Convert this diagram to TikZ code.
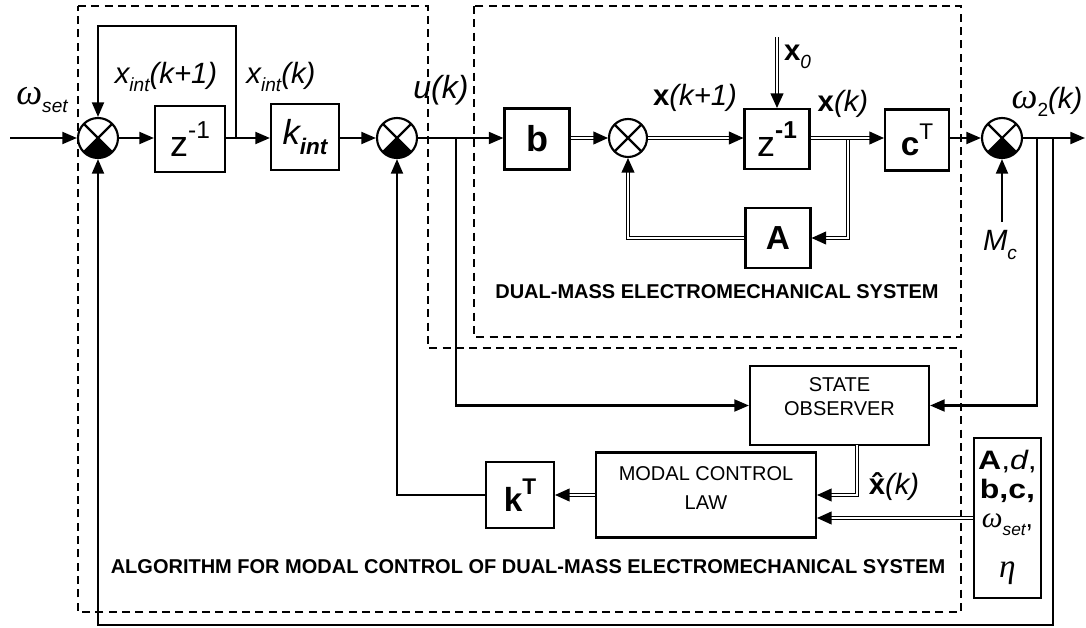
\documentclass[tikz,border=0pt]{standalone}
\usepackage{graphicx}
\usepackage{fontspec}
\setmainfont{Liberation Sans}
\newfontfamily\grk{Liberation Serif}
\usetikzlibrary{arrows.meta,decorations.markings}
\newcommand\sub[1]{\raisebox{-0.28em}{\scalebox{0.65}{#1}}}
\newcommand\sups[1]{\raisebox{0.5em}{\scalebox{0.68}{#1}}}
\newcommand\fs[1]{\fontsize{#1pt}{#1pt}\selectfont}
\newcommand\om{{\grk\itshape\scalebox{1.25}{ω}}}
\begin{document}
\begin{tikzpicture}[x=0.75pt,y=-0.75pt,line width=1.6pt,
  arr/.style={-{Triangle[length=11pt,width=9pt]}},
  dbl/.style={double,double distance=1.5pt,line width=0.9pt},
  dbla/.style={dbl,shorten >=8pt,postaction={decorate,decoration={markings,
      mark=at position 1 with {\fill (-11pt,5pt) -- (0pt,0pt) -- (-11pt,-5pt) -- cycle;}}}},
  dsh/.style={line width=0.9pt,dash pattern=on 6pt off 4pt},
  bx/.style 2 args={draw,line width=1.6pt,minimum width=#1*0.75pt,minimum height=#2*0.75pt,inner sep=0pt,align=center},
  lbl/.style={inner sep=0pt,font=\fs{22}},
  sumj/.style={circle,draw,line width=1.6pt,minimum size=30pt,inner sep=0pt,
    path picture={
      \draw[line width=1.6pt] (path picture bounding box.center) ++(45:16pt) -- ++(225:32pt);
      \draw[line width=1.6pt] (path picture bounding box.center) ++(135:16pt) -- ++(-45:32pt);}},
  sumf/.style={sumj,
    path picture={
      \fill (path picture bounding box.center) -- ++(225:20pt) arc[start angle=225,end angle=315,radius=20pt] -- cycle;
      \draw[line width=1.6pt] (path picture bounding box.center) ++(45:16pt) -- ++(225:32pt);
      \draw[line width=1.6pt] (path picture bounding box.center) ++(135:16pt) -- ++(-45:32pt);}},
  ttl/.style={inner sep=0pt,font=\fs{15}\bfseries}
]
\useasboundingbox (0,0) rectangle (1086,628);

% dashed frames
\draw[dsh] (78,6) -- (428,6) -- (428,348) -- (961,348) -- (961,612) -- (78,612) -- cycle;
\draw[dsh] (474,6) rectangle (961,337);

% blocks
\node[sumf] (s1) at (98,138) {};
\node[bx={70}{66},font=\fs{27}] (z1) at (190,139) {z\sups{-1}};
\node[bx={68}{66},font=\fs{26}] (kint) at (305,137) {\itshape k\sub{\bfseries int}};
\node[sumf] (s2) at (397,138) {};
\node[bx={65}{61},font=\fs{27}\bfseries] (b) at (537,139) {b};
\node[sumj,minimum size=28.5pt] (s3) at (628,138) {};
\node[bx={65}{60},font=\fs{27}] (z2) at (777,139) {z\sups{\bfseries -1}};
\node[bx={65}{60},font=\fs{25}\bfseries] (A) at (778,238) {A};
\node[bx={64}{61},font=\fs{25}] (cT) at (917,140) {\textbf{c}\sups{T}};
\node[sumf] (s4) at (1002,138) {};
\node[bx={179}{79},label={[font=\fs{15},align=center,yshift=7pt]center:STATE\\[3pt]OBSERVER}] (obs) at (839.5,405.5) {};
\node[bx={220}{85},label={[font=\fs{15},align=center,yshift=5pt]center:MODAL CONTROL\\[7pt]LAW}] (mcl) at (706,495) {};
\node[bx={68}{66},font=\fs{25}] (kT) at (520,495) {\textbf{k}\sups{\bfseries T}};
\node[bx={67}{160}] (par) at (1007.5,518) {\fs{20}\begin{tabular}{@{}c@{}}\scalebox{1.2}[1]{\textbf{A},{\itshape d},}\\[1.75pt]\scalebox{1.2}[1]{\textbf{b,c,}}\\[1.75pt]{\grk\itshape\scalebox{1.1}{ω}}\sub{\itshape set},\\[17.5pt]{\grk\itshape\scalebox{1.25}{η}}\end{tabular}};

% coordinates
\coordinate (in) at (10,138);
\coordinate (br1) at (236,138);
\coordinate (lp) at (98,26);
\coordinate (ut) at (456,138);
\coordinate (xb) at (848,138);
\coordinate (x0s) at (777,37);
\coordinate (Mcs) at (1002,222);
\coordinate (out) at (1085,138);
\coordinate (wt) at (1037,138);
\coordinate (wt2) at (1053,138);
\coordinate (fb) at (1053,625);
\coordinate (obo) at (857,445);

% connectors
\draw[arr] (in) -- (s1);
\draw[arr] (s1) -- (s1 -| z1.west);
\draw[arr] (s1 -| z1.east) -- (s1 -| kint.west);
\draw[arr] (br1) |- (lp) -- (s1);
\draw[arr] (s2 -| kint.east) -- (s2);
\draw[arr] (s2) -- (s2 -| b.west);
\draw[arr] (ut) |- (obs);
\draw[dbla] (s3 -| b.east) -- (s3);
\draw[dbla] (s3) -- (s3 -| z2.west);
\draw[dbla] (x0s) -- (z2);
\draw[dbla] (xb) |- (A);
\draw[dbla] (s3 -| z2.east) -- (s3 -| cT.west);
\draw[dbla] (A) -| (s3);
\draw[arr] (s4 -| cT.east) -- (s4);
\draw[arr] (Mcs) -- (s4);
\draw[arr] (s4) -- (out);
\draw[arr] (wt) |- (obs);
\draw[arr] (wt2) -- (fb) -| (s1);
\draw[dbla] (mcl) -- (kT);
\draw[arr] (kT) -| (s2);
\draw[dbla] (obo) |- (mcl);
\draw[dbla] (par) -- (mcl.east |- par);

% labels
\node[lbl] (lwset) at (42,100) {\om\sub{\itshape set}};
\node[lbl] (lxi1) at (166,77) {\itshape x\sub{int}(k+1)};
\node[lbl] (lxi) at (281,77) {\itshape x\sub{int}(k)};
\node[lbl,font=\fs{24}] (lu) at (441,90) {\itshape u(k)};
\node[lbl] (lx1) at (695,98) {\textbf{x}\itshape(k+1)};
\node[lbl,anchor=west] (lx0) at (783,57) {\textbf{x}\sub{\itshape 0}};
\node[lbl] (lx) at (843,104) {\textbf{x}\itshape(k)};
\node[lbl] (lw2) at (1047,102) {\om\sub{2}\itshape(k)};
\node[lbl] (lmc) at (1000,245) {\itshape M\sub{c}};
\node[lbl] (lxh) at (894,487) {\textbf{\makebox[0pt][l]{\makebox[0.556em][c]{ˆ}}x}\itshape(k)};
\node[ttl] (t1) at (717,292) {DUAL-MASS ELECTROMECHANICAL SYSTEM};
\node[ttl] (t2) at (528,567) {ALGORITHM FOR MODAL CONTROL OF DUAL-MASS ELECTROMECHANICAL SYSTEM};
\end{tikzpicture}
\end{document}
